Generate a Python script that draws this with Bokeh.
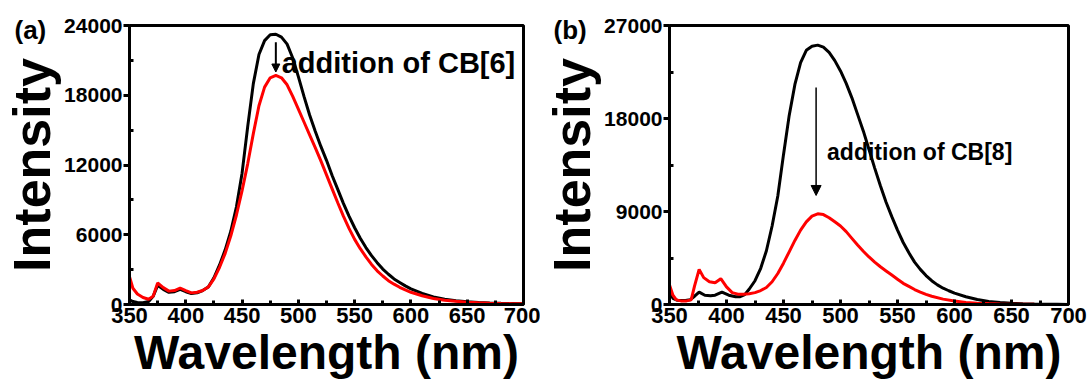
import math
from bokeh.plotting import figure
from bokeh.layouts import row
from bokeh.models import Range1d, FixedTicker, Label, Arrow, NormalHead, Title
from bokeh.embed import file_html
from bokeh.resources import INLINE

FONT = "Liberation Sans"

# ---------------- data: panel (a) CB[6] ----------------
wl_a = [350, 353, 357, 362, 367, 371, 375, 380, 385, 390, 395, 400, 405, 410, 415,
        420, 425, 430, 435, 440, 445, 450, 455, 460, 465, 470, 475, 480, 485, 490,
        495, 500, 505, 510, 515, 520, 525, 530, 535, 540, 545, 550, 555, 560, 565,
        570, 575, 580, 585, 590, 595, 600, 610, 620, 630, 640, 650, 660, 670, 680,
        690, 700]
black_a = [400, 250, 180, 150, 250, 700, 1650, 1300, 1050, 1100, 1300, 1100, 950, 1000, 1200,
           1500, 2300, 3400, 4700, 6300, 8400, 11300, 15300, 19000, 21500, 22700, 23200, 23250, 23000, 22400,
           21200, 19600, 17900, 16300, 14900, 13600, 12400, 11100, 9900, 8700, 7600, 6600, 5700, 4900, 4200,
           3600, 3050, 2600, 2200, 1900, 1600, 1350, 950, 650, 450, 320, 230, 170, 130, 100,
           80, 60]
red_a = [2400, 1400, 900, 600, 450, 700, 1850, 1450, 1150, 1200, 1420, 1200, 1000, 1050, 1200,
         1500, 2200, 3200, 4400, 5900, 7700, 9800, 12100, 14700, 17100, 18700, 19500, 19700, 19500, 18900,
         17900, 16800, 15700, 14600, 13500, 12350, 11150, 9950, 8750, 7600, 6550, 5600, 4800, 4100, 3450,
         2900, 2450, 2050, 1750, 1480, 1250, 1050, 750, 520, 370, 270, 200, 150, 115, 90,
         70, 60]

# ---------------- data: panel (b) CB[8] ----------------
wl_b = [350, 353, 357, 364, 368, 372, 376, 381, 386, 390, 396, 402, 408, 412, 416,
        420, 425, 430, 435, 440, 445, 450, 455, 460, 465, 470, 475, 480, 485, 490,
        495, 500, 505, 510, 515, 520, 525, 530, 535, 540, 545, 550, 555, 560, 565,
        570, 575, 580, 585, 590, 595, 600, 610, 620, 630, 640, 650, 660, 670, 680,
        690, 700]
black_b = [1200, 600, 400, 390, 450, 800, 1200, 900, 850, 900, 1200, 900, 750, 750, 950,
           1500, 2300, 3500, 5200, 7600, 10500, 14500, 18300, 21300, 23400, 24600, 25000, 25100, 24900, 24400,
           23600, 22600, 21400, 20000, 18400, 16800, 15000, 13200, 11500, 9900, 8500, 7200, 6000, 5000, 4100,
           3400, 2800, 2300, 1900, 1580, 1330, 1100, 750, 480, 300, 190, 120, 80, 50, 30,
           20, 10]
wl_b_red = [350, 353, 356, 360, 365, 369, 372, 376, 380, 385, 390, 395, 400, 405, 410,
            415, 420, 425, 430, 435, 440, 445, 450, 455, 460, 465, 470, 475, 480, 485,
            490, 495, 500, 505, 510, 515, 520, 525, 530, 535, 540, 545, 550, 555, 560,
            565, 570, 575, 580, 590, 600, 610, 620, 630, 640, 650, 670, 700]
red_b = [1900, 900, 450, 350, 350, 450, 1800, 3400, 2600, 2200, 2100, 2500, 1700, 1150, 1000,
         1000, 1050, 1150, 1350, 1650, 2200, 3000, 4000, 5100, 6200, 7200, 8000, 8550, 8780, 8700,
         8400, 8000, 7600, 7050, 6400, 5750, 5150, 4600, 4100, 3650, 3250, 2850, 2450, 2050, 1750,
         1450, 1200, 980, 800, 520, 330, 200, 130, 85, 55, 35, 15, 10]

x_ticks = [350, 400, 450, 500, 550, 600, 650, 700]
y_ticks_a = [0, 6000, 12000, 18000, 24000]
y_ticks_b = [0, 9000, 18000, 27000]


def make_panel(wl_k, k, wl_r, r, yticks, ymax, width, left, right, top, bottom, letter, letter_dx):
    p = figure(width=width, height=383, output_backend="svg", toolbar_location=None,
               x_range=Range1d(350, 700), y_range=Range1d(0, ymax),
               min_border_left=left, min_border_right=right,
               min_border_top=top, min_border_bottom=bottom)
    p.background_fill_color = "white"
    p.border_fill_color = "white"
    p.outline_line_color = "black"
    p.outline_line_width = 3
    p.grid.visible = False

    minor_x = [v for v in range(375, 700, 50)]
    step = yticks[1] - yticks[0]
    minor_y = [v + step / 2 for v in yticks[:-1]]
    p.xaxis.ticker = FixedTicker(ticks=x_ticks, minor_ticks=minor_x)
    p.yaxis.ticker = FixedTicker(ticks=yticks, minor_ticks=minor_y)

    for ax in (p.xaxis[0], p.yaxis[0]):
        ax.axis_line_width = 3
        ax.axis_line_color = "black"
        ax.major_tick_line_width = 3
        ax.minor_tick_line_width = 3
        ax.major_label_text_font = FONT
        ax.major_label_text_font_style = "bold"
        ax.major_label_text_color = "black"
        ax.axis_label_text_font = FONT
        ax.axis_label_text_font_style = "bold"
        ax.axis_label_text_color = "black"
    p.xaxis.major_tick_in = 5
    p.xaxis.major_tick_out = 0
    p.xaxis.minor_tick_in = 4
    p.xaxis.minor_tick_out = 0
    p.yaxis.major_tick_in = 0
    p.yaxis.major_tick_out = 6
    p.yaxis.minor_tick_in = 4
    p.yaxis.minor_tick_out = 0
    p.xaxis.major_label_text_font_size = "22px"
    p.yaxis.major_label_text_font_size = "21px"
    p.xaxis.major_label_standoff = 3
    p.yaxis.major_label_standoff = 1

    p.xaxis.axis_label = "Wavelength (nm)"
    p.xaxis.axis_label_text_font_size = "48px"
    p.xaxis.axis_label_standoff = 0

    p.yaxis.axis_label = "Intensity"
    p.yaxis.axis_label_text_font_size = "52px"
    p.yaxis.axis_label_standoff = 0

    # panel letter: a two-line title (empty first line) pulled down with a negative standoff
    p.add_layout(Title(text="\n" + letter, align="left", offset=letter_dx, vertical_align="bottom",
                       standoff=-38, text_font=FONT, text_font_style="bold",
                       text_font_size="26px", text_color="black", text_line_height=1.0),
                 "above")

    p.line(wl_k, k, line_color="black", line_width=3)
    p.line(wl_r, r, line_color="red", line_width=3)
    return p


pa = make_panel(wl_a, black_a, wl_a, red_a, y_ticks_a, 24000, 540, 127, 17, 23, 78, "(a)", -115)
pb = make_panel(wl_b, black_b, wl_b_red, red_b, y_ticks_b, 27000, 548, 128, 20, 25, 79, "(b)", -116)

# annotations
pa.add_layout(Arrow(x_start=480, y_start=22550, x_end=480, y_end=20000, line_width=2,
                    line_color="black",
                    end=NormalHead(size=8, fill_color="black", line_color="black", line_width=1)))
pa.add_layout(Label(x=485.2, y=20760, text="addition of CB[6]", text_align="left",
                    text_baseline="alphabetic", text_font=FONT, text_font_style="bold",
                    text_font_size="29px", text_color="black"))
pb.add_layout(Arrow(x_start=478.6, y_start=21000, x_end=478.6, y_end=10550, line_width=1.5,
                    line_color="black",
                    end=NormalHead(size=10, fill_color="black", line_color="black", line_width=1)))
pb.add_layout(Label(x=488.2, y=14800, text="addition of CB[8]", text_align="left",
                    text_baseline="alphabetic", text_font=FONT, text_font_style="bold",
                    text_font_size="23px", text_color="black"))

layout = row(pa, pb)
open("out.html", "w").write(file_html(layout, INLINE))
